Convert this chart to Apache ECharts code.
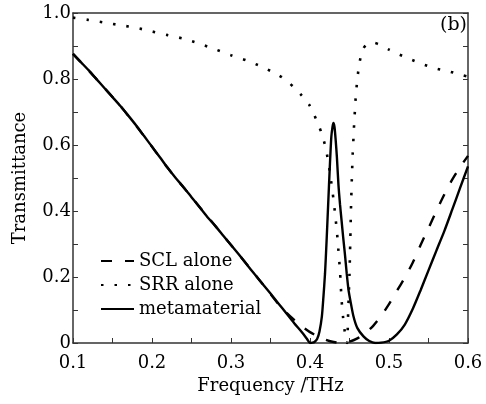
<!DOCTYPE html>
<html>
<head>
<meta charset="utf-8">
<script src="https://cdn.jsdelivr.net/npm/echarts@6/dist/echarts.min.js"></script>
<style>
  html, body { margin: 0; padding: 0; background: #fff; }
  #chart { width: 486px; height: 404px; }
</style>
</head>
<body>
<div id="chart"></div>
<script>
// metamaterial (solid)
const metaFreq = [0.10,0.11,0.12,0.13,0.14,0.15,0.16,0.17,0.18,0.19,0.20,0.21,0.22,0.23,0.24,0.25,0.26,0.27,0.28,0.29,0.30,0.31,0.32,0.33,0.34,0.35,0.36,0.37,0.38,0.39,0.396,0.400,0.403,0.406,0.409,0.412,0.415,0.417,0.419,0.421,0.423,0.425,0.427,0.4285,0.4296,0.431,0.4325,0.434,0.436,0.438,0.440,0.442,0.4445,0.4465,0.4487,0.451,0.455,0.460,0.4677,0.475,0.4825,0.49,0.50,0.51,0.52,0.53,0.54,0.55,0.56,0.57,0.58,0.59,0.60];
const metaT = [0.876,0.851,0.826,0.799,0.772,0.745,0.718,0.689,0.659,0.627,0.595,0.563,0.530,0.500,0.472,0.442,0.412,0.382,0.355,0.326,0.297,0.268,0.238,0.208,0.179,0.150,0.120,0.090,0.060,0.032,0.013,0.0,0.001,0.004,0.012,0.035,0.08,0.14,0.21,0.31,0.42,0.53,0.625,0.655,0.667,0.655,0.615,0.565,0.48,0.42,0.37,0.32,0.262,0.21,0.162,0.13,0.081,0.045,0.02,0.006,0.0,0.001,0.007,0.026,0.056,0.103,0.16,0.22,0.28,0.339,0.404,0.47,0.535];

// SCL alone (dashed)
const sclFreq = [0.10,0.13,0.16,0.19,0.22,0.25,0.28,0.31,0.34,0.35,0.36,0.37,0.38,0.39,0.40,0.41,0.42,0.43,0.44,0.45,0.46,0.47,0.48,0.49,0.50,0.51,0.52,0.53,0.54,0.55,0.56,0.57,0.58,0.59,0.60];
const sclT = [0.876,0.799,0.718,0.627,0.530,0.442,0.355,0.268,0.179,0.148,0.118,0.092,0.070,0.050,0.033,0.020,0.010,0.003,0.0,0.004,0.014,0.03,0.052,0.082,0.118,0.158,0.198,0.243,0.297,0.348,0.400,0.450,0.495,0.533,0.567];

// SRR alone (dotted)
const srrFreq = [0.10,0.12,0.14,0.16,0.18,0.20,0.22,0.24,0.26,0.28,0.30,0.32,0.34,0.36,0.37,0.38,0.39,0.40,0.41,0.415,0.42,0.425,0.43,0.432,0.434,0.436,0.438,0.44,0.442,0.444,0.447,0.448,0.449,0.45,0.451,0.452,0.453,0.454,0.455,0.456,0.457,0.458,0.46,0.4625,0.467,0.472,0.48,0.49,0.50,0.513,0.529,0.545,0.561,0.576,0.592,0.60];
const srrT = [0.986,0.979,0.971,0.963,0.955,0.944,0.933,0.922,0.907,0.890,0.872,0.856,0.836,0.812,0.796,0.774,0.749,0.718,0.665,0.633,0.59,0.52,0.43,0.385,0.34,0.28,0.217,0.13,0.075,0.035,0.0,0.07,0.14,0.21,0.31,0.42,0.50,0.57,0.62,0.67,0.71,0.75,0.80,0.848,0.89,0.905,0.91,0.902,0.889,0.874,0.858,0.843,0.831,0.823,0.812,0.807];

const seriesNames = ['SCL alone', 'SRR alone', 'metamaterial'];

const zip = (xs, ys) => xs.map((x, i) => [x, ys[i]]);
const font = 'DejaVu Serif';

const chart = echarts.init(document.getElementById('chart'));
chart.setOption({
  animation: false,
  backgroundColor: '#fff',
  textStyle: { fontFamily: font, color: '#000' },
  title: {
    text: '(b)', right: 14, top: 11,
    textStyle: { fontFamily: font, fontSize: 19, fontWeight: 'normal', color: '#000' }
  },
  grid: { left: 73, right: 18, top: 13, bottom: 61 },
  legend: {
    data: seriesNames,
    orient: 'vertical',
    left: 95, top: 247,
    itemWidth: 33, itemHeight: 14, itemGap: 6,
    itemStyle: { opacity: 0 },
    textStyle: { fontFamily: font, fontSize: 18, color: '#000' }
  },
  xAxis: [{
    type: 'value', min: 0.1, max: 0.6, interval: 0.1,
    name: 'Frequency /THz', nameLocation: 'middle', nameGap: 32,
    nameTextStyle: { fontFamily: font, fontSize: 18, color: '#000' },
    axisLine: { onZero: false, lineStyle: { color: '#333', width: 1.5 } },
    axisTick: { inside: true, length: 5, lineStyle: { color: '#333' } },
    minorTick: { show: true, splitNumber: 2, length: 5, lineStyle: { color: '#333' } },
    axisLabel: { fontSize: 18, color: '#000', margin: 11, formatter: v => v.toFixed(1) },
    splitLine: { show: false }
  }, {
    type: 'value', min: 0.1, max: 0.6, position: 'top',
    axisLine: { onZero: false, lineStyle: { color: '#333', width: 1.5 } },
    axisTick: { show: false }, axisLabel: { show: false }, splitLine: { show: false }
  }],
  yAxis: [{
    type: 'value', min: 0, max: 1, interval: 0.2,
    name: 'Transmittance', nameLocation: 'middle', nameGap: 44,
    nameTextStyle: { fontFamily: font, fontSize: 18, color: '#000' },
    axisLine: { show: true, onZero: false, lineStyle: { color: '#333', width: 1.5 } },
    axisTick: { inside: true, length: 5, lineStyle: { color: '#333' } },
    minorTick: { show: true, splitNumber: 2, length: 5, lineStyle: { color: '#333' } },
    axisLabel: { fontSize: 18, color: '#000', margin: 2, formatter: v => v === 0 ? '0' : v.toFixed(1) },
    splitLine: { show: false }
  }, {
    type: 'value', min: 0, max: 1, interval: 0.1, position: 'right',
    axisLine: { show: true, onZero: false, lineStyle: { color: '#333', width: 1.5 } },
    axisTick: { inside: true, length: 5, lineStyle: { color: '#333' } },
    axisLabel: { show: false }, splitLine: { show: false }
  }],
  series: [
    {
      name: seriesNames[0], type: 'line', symbol: 'none', smooth: 0.25,
      data: zip(sclFreq, sclT), z: 2,
      lineStyle: { color: '#000', width: 2.4, type: [11, 13] },
      itemStyle: { color: '#000' }
    },
    {
      name: seriesNames[1], type: 'line', symbol: 'none', smooth: 0.25,
      data: zip(srrFreq, srrT), z: 3,
      lineStyle: { color: '#000', width: 2.6, type: [2.5, 11] },
      itemStyle: { color: '#000' }
    },
    {
      name: seriesNames[2], type: 'line', symbol: 'none', smooth: 0.25,
      data: zip(metaFreq, metaT), z: 4,
      lineStyle: { color: '#000', width: 2.4 },
      itemStyle: { color: '#000' }
    }
  ]
});
</script>
</body>
</html>
